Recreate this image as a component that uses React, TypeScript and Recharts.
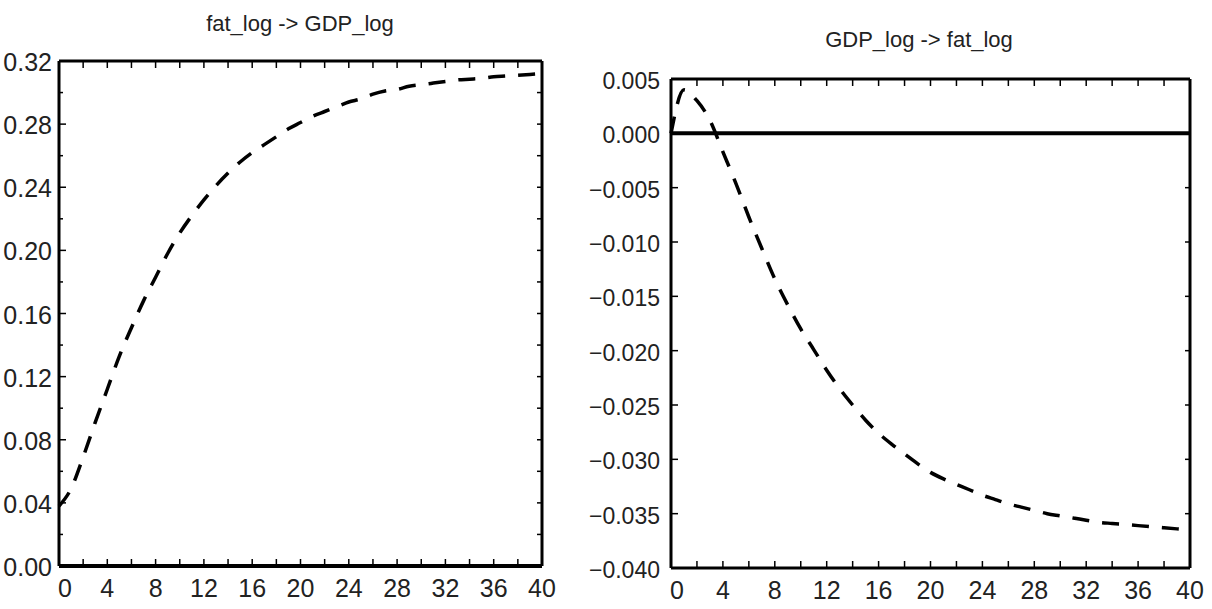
import { LineChart, Line, XAxis, YAxis, ReferenceLine } from "recharts";

// impulse responses, horizon 0..40
const horizon = [
  0, 1, 2, 3, 4, 5, 6, 7, 8, 9, 10, 11, 12, 13, 14, 15, 16, 17, 18, 19, 20,
  21, 22, 23, 24, 25, 26, 27, 28, 29, 30, 31, 32, 33, 34, 35, 36, 37, 38, 39, 40,
];

const fatToGdp = [
  0.038, 0.049, 0.069, 0.091, 0.112, 0.133, 0.151, 0.168, 0.183, 0.198, 0.211,
  0.222, 0.232, 0.241, 0.249, 0.256, 0.262, 0.267, 0.272, 0.277, 0.281,
  0.285, 0.288, 0.291, 0.294, 0.296, 0.299, 0.301, 0.302, 0.304, 0.305,
  0.306, 0.307, 0.308, 0.3085, 0.309, 0.31, 0.3105, 0.311, 0.3115, 0.312,
];

const gdpToFat = [
  0, 0.004, 0.003, 0.0012, -0.0017, -0.0046, -0.0077, -0.0106, -0.0134, -0.0158, -0.018,
  -0.0199, -0.0218, -0.0235, -0.025, -0.0264, -0.0276, -0.0286, -0.0295, -0.0304, -0.0312,
  -0.0318, -0.0323, -0.0328, -0.0333, -0.0337, -0.0341, -0.0344, -0.0347, -0.035, -0.0352,
  -0.0354, -0.0356, -0.0358, -0.0359, -0.036, -0.0361, -0.0362, -0.0363, -0.0364, -0.0365,
];

const xTicks = [0, 2, 4, 6, 8, 10, 12, 14, 16, 18, 20, 22, 24, 26, 28, 30, 32, 34, 36, 38, 40];
const fatYTicks = [0, 0.02, 0.04, 0.06, 0.08, 0.1, 0.12, 0.14, 0.16, 0.18, 0.2, 0.22, 0.24, 0.26, 0.28, 0.3, 0.32];
const gdpYTicks = [0.005, 0, -0.005, -0.01, -0.015, -0.02, -0.025, -0.03, -0.035, -0.04];

const leftData = horizon.map((h, i) => ({ h, v: fatToGdp[i] }));
const rightData = horizon.map((h, i) => ({ h, v: gdpToFat[i] }));

const narrow = '"Liberation Sans Narrow", "Liberation Sans", sans-serif';
const regular = '"Liberation Sans", Arial, sans-serif';
const ink = "#222";
const frame = { stroke: "#000", strokeWidth: 3 };

function BottomTick(props: any) {
  const { x, y, payload } = props;
  const v = payload.value;
  return (
    <g>
      <line x1={x} x2={x} y1={y} y2={y - 7} stroke="#000" strokeWidth={1.5} />
      {v % 4 === 0 && (
        <text x={x + (v === 0 ? 6 : 0)} y={y + 31} textAnchor="middle" fontFamily={narrow} fontSize={25} fill={ink}>
          {v}
        </text>
      )}
    </g>
  );
}

function TopTick(props: any) {
  const { x, y } = props;
  return <line x1={x} x2={x} y1={y} y2={y + 7} stroke="#000" strokeWidth={1.5} />;
}

function RightTick(props: any) {
  const { x, y } = props;
  return <line x1={x} x2={x - 5} y1={y} y2={y} stroke="#000" strokeWidth={1.5} />;
}

function FatYTick(props: any) {
  const { x, y, payload } = props;
  const v = payload.value;
  const major = Math.round(v * 100) % 4 === 0;
  return (
    <g>
      <line x1={x} x2={x + (major ? 7 : 4)} y1={y} y2={y} stroke="#000" strokeWidth={1.5} />
      {major && (
        <text x={x - 7} y={y + 10} textAnchor="end" fontFamily={narrow} fontSize={25} fill={ink}>
          {v.toFixed(2)}
        </text>
      )}
    </g>
  );
}

function GdpYTick(props: any) {
  const { x, y, payload } = props;
  const v = payload.value;
  return (
    <g>
      <line x1={x} x2={x + 7} y1={y} y2={y} stroke="#000" strokeWidth={1.5} />
      <text x={x - 11} y={y + 10} textAnchor="end" fontFamily={regular} fontSize={23} fill={ink}>
        {v.toFixed(3).replace("-", "\u2212")}
      </text>
    </g>
  );
}

const titleStyle = {
  position: "absolute" as const,
  width: 300,
  textAlign: "center" as const,
  fontFamily: regular,
  fontSize: 22,
  lineHeight: "22px",
  color: ink,
};

export default function App() {
  return (
    <div style={{ position: "absolute", left: 0, top: 0, width: 1212, height: 609, background: "#fff" }}>
      <div style={{ ...titleStyle, left: 150, top: 13 }}>fat_log -&gt; GDP_log</div>
      <div style={{ ...titleStyle, left: 769, top: 29 }}>GDP_log -&gt; fat_log</div>

      <div style={{ position: "absolute", left: 0, top: 0 }}>
        <LineChart width={560} height={609} data={leftData} margin={{ top: 60, right: 17, bottom: 0, left: 0 }}>
          <XAxis dataKey="h" type="number" domain={[0, 40]} ticks={xTicks} interval={0} height={43}
            tickSize={0} tickMargin={0} tickLine={false} axisLine={{ stroke: "#000", strokeWidth: 4 }} tick={BottomTick} />
          <XAxis xAxisId="top" orientation="top" dataKey="h" type="number" domain={[0, 40]} ticks={xTicks} interval={0} height={1}
            tickSize={0} tickMargin={0} tickLine={false} axisLine={frame} tick={TopTick} />
          <YAxis type="number" domain={[0, 0.32]} ticks={fatYTicks} interval={0} width={59}
            tickSize={0} tickMargin={0} tickLine={false} axisLine={frame} tick={FatYTick} />
          <YAxis yAxisId="r" orientation="right" type="number" domain={[0, 0.32]} ticks={fatYTicks} interval={0} width={1}
            tickSize={0} tickMargin={0} tickLine={false} axisLine={frame} tick={RightTick} />
          <Line xAxisId="top" yAxisId="r" type="monotone" dataKey="v" stroke="none" dot={false} activeDot={false} isAnimationActive={false} />
          <Line type="monotone" dataKey="v" stroke="#000" strokeWidth={3.5} strokeDasharray="17 13" dot={false} isAnimationActive={false} />
        </LineChart>
      </div>

      <div style={{ position: "absolute", left: 560, top: 0 }}>
        <LineChart width={652} height={609} data={rightData} margin={{ top: 78, right: 21, bottom: 0, left: 0 }}>
          <XAxis dataKey="h" type="number" domain={[0, 40]} ticks={xTicks} interval={0} height={41}
            tickSize={0} tickMargin={0} tickLine={false} axisLine={frame} tick={BottomTick} />
          <XAxis xAxisId="top" orientation="top" dataKey="h" type="number" domain={[0, 40]} ticks={xTicks} interval={0} height={1}
            tickSize={0} tickMargin={0} tickLine={false} axisLine={frame} tick={TopTick} />
          <YAxis type="number" domain={[-0.04, 0.005]} ticks={gdpYTicks} interval={0} width={111}
            tickSize={0} tickMargin={0} tickLine={false} axisLine={frame} tick={GdpYTick} />
          <YAxis yAxisId="r" orientation="right" type="number" domain={[-0.04, 0.005]} ticks={gdpYTicks} interval={0} width={1}
            tickSize={0} tickMargin={0} tickLine={false} axisLine={frame} tick={RightTick} />
          <Line xAxisId="top" yAxisId="r" type="monotone" dataKey="v" stroke="none" dot={false} activeDot={false} isAnimationActive={false} />
          <ReferenceLine y={0} stroke="#000" strokeWidth={4} />
          <Line type="monotone" dataKey="v" stroke="#000" strokeWidth={3.5} strokeDasharray="17 13" dot={false} isAnimationActive={false} />
        </LineChart>
      </div>
    </div>
  );
}
